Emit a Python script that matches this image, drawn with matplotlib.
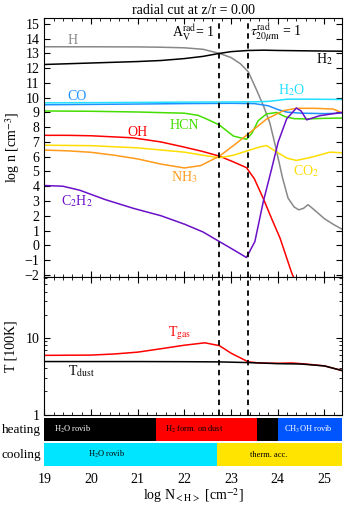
import numpy as np
import matplotlib
matplotlib.use("Agg")
import matplotlib.pyplot as plt
from matplotlib.ticker import MultipleLocator, LogLocator, NullFormatter

plt.rcParams['font.family'] = ['Liberation Serif', 'DejaVu Serif']
plt.rcParams['mathtext.fontset'] = 'stix'

# species curves: log N_<H> -> log n
h_x = [19, 20, 21, 21.5, 22, 22.4, 22.75, 23.0, 23.2, 23.37, 23.55, 23.7, 23.83, 23.96,
       24.1, 24.22, 24.35, 24.45, 24.55, 24.65, 24.8, 25.0, 25.2, 25.37]
h_y = [13.45, 13.45, 13.44, 13.42, 13.38, 13.28, 13.0, 12.72, 12.3, 11.75, 10.5, 9.4, 8.3, 6.6,
       4.6, 3.2, 2.6, 2.4, 2.5, 2.75, 2.35, 1.8, 1.4, 1.1]

h2_x = [19, 19.5, 20, 20.5, 21, 21.5, 22, 22.4, 22.75, 23.0, 23.37, 23.7, 24, 24.5, 25, 25.37]
h2_y = [12.25, 12.3, 12.35, 12.4, 12.45, 12.52, 12.65, 12.8, 13.0, 13.12, 13.2, 13.22, 13.2, 13.18, 13.16, 13.15]

co_x = [19, 21, 22, 23, 23.5, 23.8, 24.0, 24.2, 24.5, 25, 25.37]
co_y = [9.52, 9.57, 9.6, 9.62, 9.6, 9.45, 9.2, 9.02, 8.95, 8.92, 8.95]

h2o_x = [19, 21, 22, 23, 23.5, 23.8, 24.0, 24.2, 24.6, 25, 25.37]
h2o_y = [9.65, 9.68, 9.7, 9.71, 9.72, 9.75, 9.82, 9.9, 9.9, 9.89, 9.88]

hcn_x = [19, 20, 21, 21.6, 22.0, 22.3, 22.55, 22.75, 23.05, 23.33, 23.45, 23.58, 23.76, 23.98,
         24.15, 24.35, 24.62, 25.0, 25.37]
hcn_y = [9.1, 9.08, 9.03, 8.98, 8.95, 8.8, 8.45, 8.15, 7.4, 7.18, 7.6, 8.44, 8.9, 9.0,
         8.72, 8.58, 8.56, 8.6, 8.62]

oh_x = [19, 19.5, 20, 20.9, 21.5, 22.0, 22.4, 22.75, 23.05, 23.33, 23.5, 23.69, 23.87, 24.05, 24.3, 24.4]
oh_y = [7.45, 7.45, 7.42, 7.28, 7.0, 6.65, 6.35, 6.04, 5.65, 5.26, 4.5, 3.17, 1.8, 0.48, -1.88, -2.6]

co2_x = [19, 20, 21, 22.0, 22.4, 22.75, 23.05, 23.37, 23.6, 23.76, 23.98, 24.2, 24.4, 24.7, 25.12, 25.37]
co2_y = [6.78, 6.75, 6.6, 6.31, 6.1, 5.93, 6.1, 6.42, 6.65, 6.76, 6.31, 5.9, 5.75, 5.95, 6.31, 6.27]

nh3_x = [19, 19.5, 20, 20.5, 21, 21.5, 22.0, 22.35, 22.75, 23.05, 23.37, 23.76, 24.12, 24.4,
         24.8, 25.19, 25.37]
nh3_y = [6.45, 6.4, 6.3, 6.1, 5.85, 5.5, 5.24, 5.4, 6.04, 6.75, 7.55, 8.55, 9.12, 9.28,
         9.28, 9.23, 8.98]

c2h2_x = [19, 19.4, 19.76, 20.3, 20.91, 21.5, 22.01, 22.4, 22.75, 23.05, 23.33, 23.51, 23.69,
          23.87, 24.01, 24.19, 24.4, 24.5, 24.62, 24.9, 25.37]
c2h2_y = [4.05, 4.0, 3.73, 3.1, 2.5, 2.0, 1.42, 0.9, 0.25, -0.3, -0.83, 0.25, 2.95,
          5.19, 7.0, 8.56, 9.3, 9.1, 8.5, 8.78, 9.0]

# temperatures [100 K]
tgas_x = [19, 20, 20.5, 21, 21.5, 22, 22.44, 22.75, 23.0, 23.37, 23.6, 24, 24.3, 24.6, 25, 25.37]
tgas_y = [5.9, 5.95, 6.15, 6.5, 7.2, 8.0, 8.6, 7.9, 6.3, 4.85, 4.7, 4.65, 4.7, 4.55, 4.3, 3.75]
tdust_x = [19, 20, 21, 22, 22.75, 23.37, 24, 24.5, 25, 25.37]
tdust_y = [4.9, 4.9, 4.9, 4.88, 4.85, 4.75, 4.6, 4.55, 4.3, 3.75]

# heating / cooling processes
heat_edges = [19.0, 21.39, 23.56, 24.0, 25.37]
heat_cols = ['black', '#ff0000', 'black', '#0055ff']
heat_lbls = ['H$_2$O rovib', 'H$_2$ form. on dust', '', 'CH$_3$OH rovib']
heat_lblcols = ['white', 'black', 'white', 'white']
heat_lblx = [19.6, 22.21, 23.8, 24.65]

cool_edges = [19.0, 22.7, 25.37]
cool_cols = ['#00e5ff', '#ffe400']
cool_lbls = ['H$_2$O rovib', 'therm. acc.']
cool_lblx = [20.34, 23.8]

av1 = 22.75
tau1 = 23.37
xmin, xmax = 19, 25.37

W, H = 346, 508
fig = plt.figure(figsize=(W / 100, H / 100), dpi=100)

def ax_at(top, bot):
    return fig.add_axes([44.3 / W, 1 - bot / H, (341.7 - 44.3) / W, (bot - top) / H])

ax1 = ax_at(18, 277)
ax2 = ax_at(277, 414.5)
ax3 = ax_at(418.3, 441)
ax4 = ax_at(443.3, 466)

# --- top panel
curves = [
    (h_x, h_y, '#888888'), (h2_x, h2_y, 'black'), (co_x, co_y, '#1e90ff'),
    (h2o_x, h2o_y, '#22e0ff'), (hcn_x, hcn_y, '#44dd00'), (oh_x, oh_y, '#ff0000'),
    (co2_x, co2_y, '#ffdd00'), (nh3_x, nh3_y, '#ff9a1a'), (c2h2_x, c2h2_y, '#6a10c8'),
]
for xs, ys, c in curves:
    ax1.plot(xs, ys, color=c, lw=1.1)

fs = 10
ax1.text(19.6, 13.9, 'H', color='#888888', fontsize=fs, ha='center', va='center')
ax1.text(25.0, 12.6, 'H$_2$', color='black', fontsize=fs, ha='center', va='center')
ax1.text(19.7, 10.05, 'CO', color='#1e90ff', fontsize=fs, ha='center', va='center')
ax1.text(24.3, 10.5, 'H$_2$O', color='#22e0ff', fontsize=fs, ha='center', va='center')
ax1.text(22.0, 8.1, 'HCN', color='#44dd00', fontsize=fs, ha='center', va='center')
ax1.text(21.0, 7.65, 'OH', color='#ff0000', fontsize=fs, ha='center', va='center')
ax1.text(22.0, 4.6, 'NH$_3$', color='#ff9a1a', fontsize=fs, ha='center', va='center')
ax1.text(24.6, 5.0, 'CO$_2$', color='#ffdd00', fontsize=fs, ha='center', va='center')
ax1.text(19.7, 3.0, 'C$_2$H$_2$', color='#6a10c8', fontsize=fs, ha='center', va='center')
ax1.text(22.2, 14.4, r'A$_{\rm V}^{\rm rad}$= 1', fontsize=fs, ha='center', va='center')
ax1.text(23.4, 14.4, r'$\tau^{\rm rad}_{20\mu{\rm m}}$ = 1', fontsize=fs, ha='left', va='center')

ax1.set_xlim(xmin, xmax)
ax1.set_ylim(-2.15, 15.4)
ax1.yaxis.set_major_locator(MultipleLocator(1))
ax1.xaxis.set_major_locator(MultipleLocator(1))
ax1.xaxis.set_minor_locator(MultipleLocator(0.2))
ax1.set_xticklabels([])
ax1.set_ylabel('log n [cm$^{-3}$]', fontsize=fs, labelpad=2)
ax1.set_title('radial cut at z/r = 0.00', fontsize=fs, pad=3)

# --- temperature panel
ax2.plot(tgas_x, tgas_y, color='#ff0000', lw=1.1)
ax2.plot(tdust_x, tdust_y, color='black', lw=1.1)
ax2.set_yscale('log')
ax2.set_ylim(1, 62)
ax2.set_xlim(xmin, xmax)
ax2.yaxis.set_minor_locator(LogLocator(base=10, subs=np.arange(2, 10), numticks=10))
ax2.yaxis.set_minor_formatter(NullFormatter())
ax2.set_yticks([1, 10])
ax2.set_yticklabels(['1', '10'])
ax2.xaxis.set_major_locator(MultipleLocator(1))
ax2.xaxis.set_minor_locator(MultipleLocator(0.2))
ax2.set_xticklabels([])
ax2.set_ylabel('T [100K]', fontsize=fs, labelpad=6)
ax2.text(21.9, 11.5, 'T$_{\\rm gas}$', color='#ff0000', fontsize=fs, ha='center', va='center')
ax2.text(19.8, 3.7, 'T$_{\\rm dust}$', color='black', fontsize=fs, ha='center', va='center')

for ax in (ax1, ax2):
    ax.axvline(av1, color='black', ls='--', lw=1.3, dashes=(3, 2.5))
    ax.axvline(tau1, color='black', ls='--', lw=1.3, dashes=(3, 2.5))
    ax.tick_params(which='both', direction='in', top=True, right=True, labelsize=fs)
    ax.tick_params(which='major', length=4)
    ax.tick_params(which='minor', length=2)
    for s in ax.spines.values():
        s.set_linewidth(0.8)

# --- heating / cooling bars
for i, c in enumerate(heat_cols):
    ax3.axvspan(heat_edges[i], heat_edges[i + 1], color=c, lw=0)
    if heat_lbls[i]:
        ax3.text(heat_lblx[i], 0.5, heat_lbls[i], color=heat_lblcols[i], fontsize=6,
                 ha='center', va='center')
for i, c in enumerate(cool_cols):
    ax4.axvspan(cool_edges[i], cool_edges[i + 1], color=c, lw=0)
    ax4.text(cool_lblx[i], 0.5, cool_lbls[i], color='black', fontsize=6,
             ha='center', va='center')

for ax, name in ((ax3, 'heating'), (ax4, 'cooling')):
    ax.set_xlim(xmin, xmax)
    ax.set_ylim(0, 1)
    ax.set_yticks([])
    ax.text(-0.01, 0.5, name, transform=ax.transAxes, ha='right', va='center', fontsize=9.5)
    for s in ax.spines.values():
        s.set_visible(False)

ax3.set_xticks([])
ax4.xaxis.set_major_locator(MultipleLocator(1))
ax4.tick_params(axis='x', length=0, labelsize=fs, pad=5)
ax4.set_xlabel('log N$_{\\rm <H>}$ [cm$^{-2}$]', fontsize=fs, labelpad=0)

fig.savefig('out.png', dpi=100)
